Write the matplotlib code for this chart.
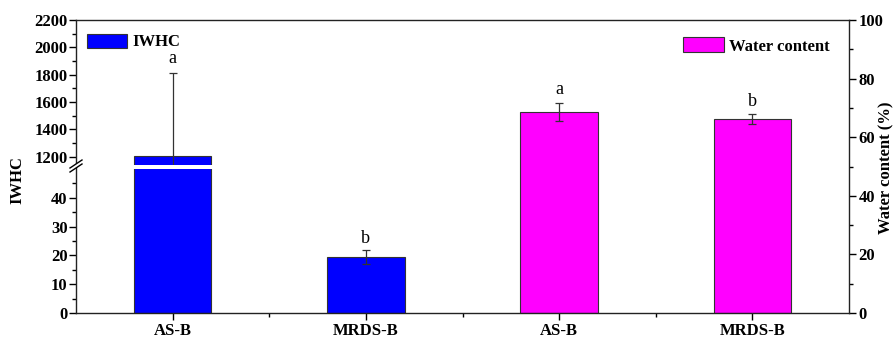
import matplotlib
matplotlib.use('Agg')
import matplotlib.pyplot as plt
from matplotlib.ticker import MultipleLocator, FixedLocator
from matplotlib.lines import Line2D
from matplotlib.patches import Polygon

# ---- data ----
categories = ['AS-B', 'MRDS-B', 'AS-B', 'MRDS-B']
iwhc_values = [1205, 19.5]
iwhc_errors = [610, 2.5]
iwhc_letters = ['a', 'b']
water_values = [68.7, 66.2]
water_errors = [3.1, 1.6]
water_letters = ['a', 'b']

plt.rcParams['font.family'] = ['Liberation Serif', 'DejaVu Serif']

W, H = 896, 337
fig = plt.figure(figsize=(W / 100, H / 100), dpi=100)


def rect(x0, y0, x1, y1):
    return [x0 / W, 1 - y1 / H, (x1 - x0) / W, (y1 - y0) / H]


L, R, T, B = 76, 849, 20, 313
BRK_TOP, BRK_BOT = 165, 169
FS = 12

ax_top = fig.add_axes(rect(L, T, R, BRK_TOP))
ax_bot = fig.add_axes(rect(L, BRK_BOT, R, B))
ax_main = fig.add_axes(rect(L, T, R, B))
ax_main.patch.set_visible(False)

xpos = [0.5, 1.5, 2.5, 3.5]
bw = 0.4
edge = '#333333'
tick_kw = dict(direction='out', width=1.0, colors='black')

for ax in (ax_top, ax_bot):
    ax.bar(xpos[:2], iwhc_values, width=bw, color='#0000FF', edgecolor=edge, linewidth=0.8, zorder=2)
    ax.errorbar(xpos[:2], iwhc_values, yerr=iwhc_errors, fmt='none', ecolor=edge,
                elinewidth=0.9, capsize=3, capthick=0.9, zorder=3)
    ax.set_xlim(0, 4)
    for s in ax.spines.values():
        s.set_visible(False)
    ax.set_xticks([])
    ax.patch.set_visible(False)
    ax.tick_params(axis='y', which='major', length=5, labelsize=FS, pad=1, **tick_kw)
    ax.tick_params(axis='y', which='minor', length=3, **tick_kw)

ax_top.set_ylim(1138, 2200)
ax_top.yaxis.set_major_locator(FixedLocator([1200, 1400, 1600, 1800, 2000, 2200]))
ax_top.yaxis.set_minor_locator(FixedLocator([1300, 1500, 1700, 1900, 2100]))
ax_bot.set_ylim(0, 50)
ax_bot.yaxis.set_major_locator(FixedLocator([0, 10, 20, 30, 40]))
ax_bot.yaxis.set_minor_locator(FixedLocator([5, 15, 25, 35, 45]))
for ax in (ax_top, ax_bot):
    for lab in ax.get_yticklabels():
        lab.set_fontweight('bold')

# letters for IWHC
ax_top.text(xpos[0], iwhc_values[0] + iwhc_errors[0] + 40, iwhc_letters[0], ha='center', va='bottom', fontsize=13)
ax_bot.text(xpos[1], iwhc_values[1] + iwhc_errors[1] + 0.8, iwhc_letters[1], ha='center', va='bottom', fontsize=13)

# water content on main axis
ax_main.bar(xpos[2:], water_values, width=bw, color='#FF00FF', edgecolor=edge, linewidth=0.8, zorder=2)
ax_main.errorbar(xpos[2:], water_values, yerr=water_errors, fmt='none', ecolor=edge,
                 elinewidth=0.9, capsize=3, capthick=0.9, zorder=3)
for x, v, e, l in zip(xpos[2:], water_values, water_errors, water_letters):
    ax_main.text(x, v + e + 1.5, l, ha='center', va='bottom', fontsize=13)
ax_main.set_xlim(0, 4)
ax_main.set_ylim(0, 100)
ax_main.yaxis.tick_right()
ax_main.yaxis.set_major_locator(MultipleLocator(20))
ax_main.yaxis.set_minor_locator(MultipleLocator(10))
ax_main.set_xticks(xpos)
ax_main.set_xticklabels(categories, fontweight='bold', fontsize=FS)
ax_main.xaxis.set_minor_locator(FixedLocator([1, 2, 3]))
ax_main.tick_params(axis='both', which='major', length=5, labelsize=FS, pad=2, **tick_kw)
ax_main.tick_params(axis='both', which='minor', length=3, **tick_kw)
for lab in ax_main.get_yticklabels():
    lab.set_fontweight('bold')
for s in ax_main.spines.values():
    s.set_linewidth(1.0)
    s.set_color('#222222')

fig.text(886 / W, 1 - 168 / H, 'Water content (%)', rotation=90, fontweight='bold', fontsize=FS,
         ha='center', va='center')
fig.text(17 / W, 1 - 180 / H, 'IWHC', rotation=90, fontweight='bold', fontsize=FS,
         ha='center', va='center')

# axis break mark on left spine
cx, cy = L / W, 1 - 166 / H
dx, dy = 6 / W, 4 / H
gap = 4 / H
poly = Polygon([[cx - dx, cy + gap / 2 - dy], [cx + dx, cy + gap / 2 + dy],
                [cx + dx, cy - gap / 2 + dy], [cx - dx, cy - gap / 2 - dy]],
               closed=True, transform=fig.transFigure, facecolor='white', edgecolor='none', zorder=10)
fig.patches.append(poly)
for off in (gap / 2, -gap / 2):
    fig.lines.append(Line2D([cx - dx, cx + dx], [cy + off - dy, cy + off + dy],
                            transform=fig.transFigure, color='black', linewidth=1.0, zorder=11))

# legends
h1 = ax_top.patches[0]
ax_top.legend([h1], ['IWHC'], loc='center left', frameon=False,
              bbox_to_anchor=(87 / W, 1 - 42 / H), bbox_transform=fig.transFigure,
              prop={'weight': 'bold', 'size': FS}, handlelength=2.4, handleheight=0.95,
              handletextpad=0.35, borderpad=0, borderaxespad=0)
h2 = ax_main.patches[0]
ax_main.legend([h2], ['Water content'], loc='center right', frameon=False,
               bbox_to_anchor=(830 / W, 1 - 46 / H), bbox_transform=fig.transFigure,
               prop={'weight': 'bold', 'size': FS}, handlelength=2.5, handleheight=1.0,
               handletextpad=0.3, borderpad=0, borderaxespad=0)

fig.savefig('out.png', dpi=100)
